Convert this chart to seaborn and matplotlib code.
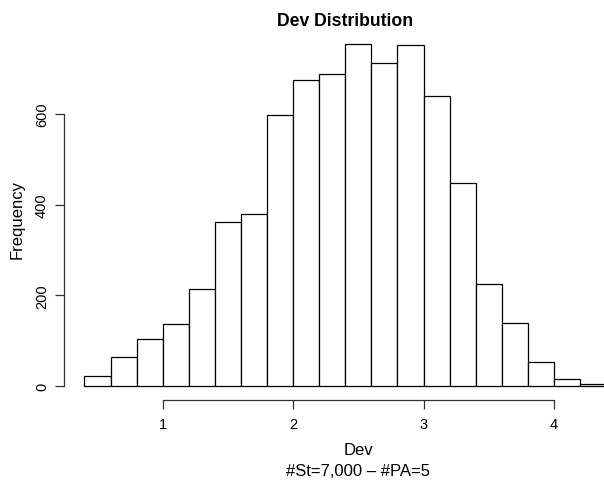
import numpy as np
import pandas as pd
import matplotlib
matplotlib.use("Agg")
import matplotlib.pyplot as plt
import seaborn as sns

# ---- data ----
bin_edges = [0.4, 0.6, 0.8, 1.0, 1.2, 1.4, 1.6, 1.8, 2.0, 2.2, 2.4,
             2.6, 2.8, 3.0, 3.2, 3.4, 3.6, 3.8, 4.0, 4.2, 4.4]
counts = [23, 63, 104, 136, 213, 362, 380, 599, 675, 688, 754,
          713, 752, 639, 447, 224, 139, 52, 15, 4]
x_ticks = [1, 2, 3, 4]
y_ticks = [0, 200, 400, 600]

title = "Dev Distribution"
xlab = "Dev"
sublab = "#St=7,000 \u2013 #PA=5"
ylab = "Frequency"

sns.set_style("white")
plt.rcParams['font.family'] = ['Liberation Sans', 'DejaVu Sans']
plt.rcParams['text.color'] = 'black'
plt.rcParams['xtick.color'] = 'black'
plt.rcParams['ytick.color'] = 'black'

edges = np.array(bin_edges)
df = pd.DataFrame({
    "Dev": (edges[:-1] + edges[1:]) / 2,
    "n": counts,
})

W, H = 604, 485
fig = plt.figure(figsize=(W / 100, H / 100), dpi=100)

# plot region in pixels (R style, region runs off the right edge)
left_px, right_px = 63.6, 627.0
bottom_px, top_px = 400.7, 31.6
ax = fig.add_axes([left_px / W, 1 - bottom_px / H,
                   (right_px - left_px) / W, (bottom_px - top_px) / H])

sns.histplot(data=df, x="Dev", weights="n", bins=bin_edges, ax=ax,
             color="white", edgecolor="black", linewidth=0.9, alpha=1)

# R default 4% range expansion
xr = edges[-1] - edges[0]
ax.set_xlim(edges[0] - 0.04 * xr, edges[-1] + 0.04 * xr)
ymax = max(counts)
ax.set_ylim(-0.04 * ymax, 1.04 * ymax)

for s in ["top", "right"]:
    ax.spines[s].set_visible(False)
ax.spines["left"].set_bounds(y_ticks[0], y_ticks[-1])
ax.spines["bottom"].set_bounds(x_ticks[0], x_ticks[-1])
for s in ["left", "bottom"]:
    ax.spines[s].set_color("#333333")
    ax.spines[s].set_linewidth(0.9)

ax.set_xticks(x_ticks)
ax.set_yticks(y_ticks)
ax.set_xticklabels([str(v) for v in x_ticks], fontsize=10.5)
ax.set_yticklabels([str(v) for v in y_ticks], fontsize=10.5, rotation=90, va="center")
ax.tick_params(axis="both", direction="out", length=6.5, width=0.9,
               color="#333333", labelcolor="black", left=True, bottom=True)
ax.tick_params(axis="x", pad=6)
ax.tick_params(axis="y", pad=4)
ax.set_xlabel("")
ax.set_ylabel("")

fig.text(345 / W, 1 - 21 / H, title, ha="center", va="center",
         fontsize=12.7, fontweight="bold")
fig.text(358 / W, 1 - 451 / H, xlab, ha="center", va="center", fontsize=12)
fig.text(358 / W, 1 - 472 / H, sublab, ha="center", va="center", fontsize=12)
fig.text(17 / W, 1 - 220 / H, ylab, ha="center", va="center",
         fontsize=12, rotation=90)

fig.savefig("out.png", dpi=100)
